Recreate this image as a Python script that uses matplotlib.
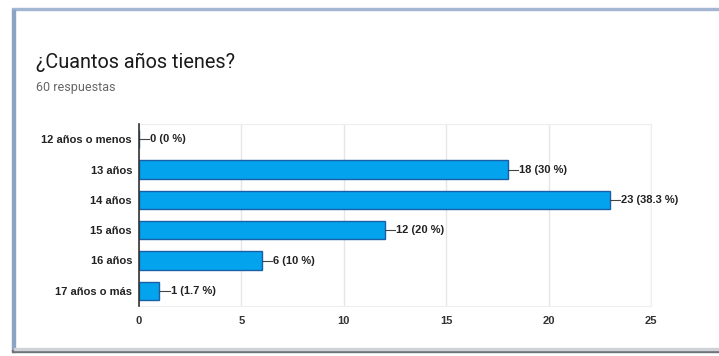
import matplotlib.pyplot as plt
from matplotlib.patches import Rectangle

# Datos de la encuesta
categorias = ["12 años o menos", "13 años", "14 años", "15 años", "16 años", "17 años o más"]
respuestas = [0, 18, 23, 12, 6, 1]
porcentajes = ["0 %", "30 %", "38.3 %", "20 %", "10 %", "1.7 %"]
ticks_x = [0, 5, 10, 15, 20, 25]

plt.rcParams['font.family'] = ['Liberation Sans', 'DejaVu Sans']

W, H = 719, 356
fig = plt.figure(figsize=(W / 100, H / 100), dpi=100)
fig.patch.set_facecolor('white')

# Marco tipo captura de pantalla
fig.patches.append(Rectangle((12 / W, 1 - 10 / H), 1, 2 / H, transform=fig.transFigure,
                             color='#a3b6d2', zorder=0))
fig.patches.append(Rectangle((12 / W, 4 / H), 2.5 / W, 1 - 14 / H, transform=fig.transFigure,
                             color='#8ba3c4', zorder=0))
fig.patches.append(Rectangle((12 / W, 4 / H), 1, 2.5 / H, transform=fig.transFigure,
                             color='#6e737a', zorder=0))
fig.patches.append(Rectangle((14.5 / W, 6.5 / H), 1, 2 / H, transform=fig.transFigure,
                             color='#cfd2d6', zorder=0))

fig.text(36 / W, 1 - 62 / H, "¿Cuantos años tienes?", fontsize=14.3, color='#1a1a1a',
         va='center', family=['Roboto', 'DejaVu Sans'])
fig.text(36 / W, 1 - 87 / H, "60 respuestas", fontsize=9, color='#666666', va='center',
         family=['Roboto', 'DejaVu Sans'])

ax = fig.add_axes([139 / W, 1 - 306 / H, 512 / W, 182 / H])
y = list(range(len(categorias)))
ax.barh(y, respuestas, height=0.6, color='#03a3ee', edgecolor='#1a5fa8', linewidth=1, zorder=3)

for yi, v, p in zip(y, respuestas, porcentajes):
    ax.plot([v, v + 0.5], [yi, yi], color='#444444', linewidth=0.8, zorder=4)
    ax.text(v + 0.55, yi, f"{v} ({p})", va='center', ha='left', fontsize=8,
            color='#222222', fontweight='bold')

ax.set_ylim(len(categorias) - 0.5, -0.5)
ax.set_xlim(0, 25)
ax.set_yticks(y)
ax.set_yticklabels(categorias, fontsize=8, fontweight='bold', color='#222222')
ax.set_xticks(ticks_x)
ax.set_xticklabels([str(t) for t in ticks_x], fontsize=8, fontweight='bold', color='#333333')
ax.tick_params(axis='both', length=0)
ax.tick_params(axis='y', pad=5)
ax.tick_params(axis='x', pad=7)
ax.grid(axis='x', color='#e6e6e6', linewidth=1, zorder=0)
for s in ['top', 'right', 'bottom']:
    ax.spines[s].set_color('#eeeeee')
ax.spines['left'].set_color('#333333')
ax.spines['left'].set_linewidth(1.2)
ax.spines['left'].set_zorder(5)

fig.savefig('out.png', dpi=100)
